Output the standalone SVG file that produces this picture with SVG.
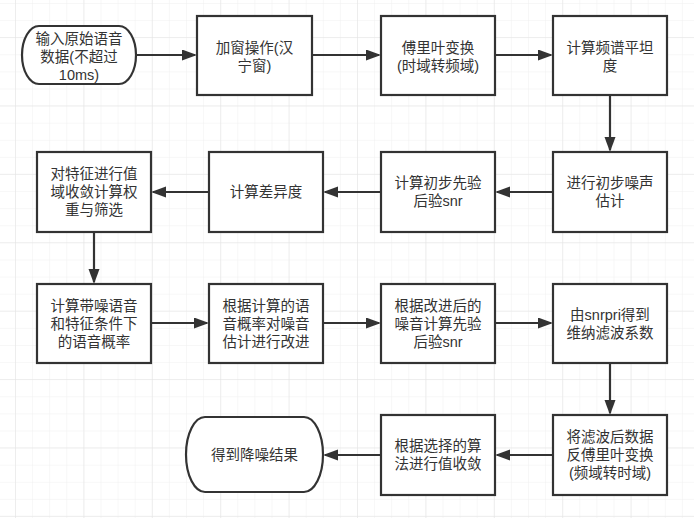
<svg xmlns="http://www.w3.org/2000/svg" width="694" height="518" viewBox="0 0 694 518">
<defs>
<pattern id="minor" x="15" y="3" width="17.1" height="17.1" patternUnits="userSpaceOnUse">
<path d="M0,0 H17.1 M0,0 V17.1" fill="none" stroke="#efefef" stroke-width="1"/>
</pattern>
<pattern id="major" x="15" y="37" width="68.4" height="68.4" patternUnits="userSpaceOnUse">
<path d="M0,0 H68.4 M0,0 V68.4" fill="none" stroke="#e4e4e4" stroke-width="1"/>
</pattern>
<marker id="arr" markerUnits="userSpaceOnUse" markerWidth="16" markerHeight="12" refX="13" refY="5.5" orient="auto">
<path d="M0,0 L15,5.5 L0,11 Z" fill="#333"/>
</marker>
<style>
.box{fill:#fff;stroke:#333;stroke-width:2.2}
.t{font-family:"Liberation Sans","Noto Sans CJK SC",sans-serif;font-size:14.5px;fill:#333;text-anchor:middle}
.c{fill:none;stroke:#333;stroke-width:2.2}
</style>
</defs>
<rect width="694" height="518" fill="#fff"/>
<rect width="694" height="518" fill="url(#minor)"/>
<rect width="694" height="518" fill="url(#major)"/>

<g id="connectors">
<line class="c" x1="136" y1="55" x2="195" y2="55" marker-end="url(#arr)"/>
<line class="c" x1="312" y1="55" x2="379" y2="55" marker-end="url(#arr)"/>
<line class="c" x1="495" y1="55" x2="551" y2="55" marker-end="url(#arr)"/>
<line class="c" x1="610" y1="95" x2="610" y2="150" marker-end="url(#arr)"/>
<line class="c" x1="553" y1="192" x2="497" y2="192" marker-end="url(#arr)"/>
<line class="c" x1="381" y1="192" x2="325" y2="192" marker-end="url(#arr)"/>
<line class="c" x1="209" y1="192" x2="153" y2="192" marker-end="url(#arr)"/>
<line class="c" x1="94" y1="232" x2="94" y2="282" marker-end="url(#arr)"/>
<line class="c" x1="151" y1="323" x2="207" y2="323" marker-end="url(#arr)"/>
<line class="c" x1="323" y1="323" x2="379" y2="323" marker-end="url(#arr)"/>
<line class="c" x1="495" y1="323" x2="551" y2="323" marker-end="url(#arr)"/>
<line class="c" x1="610" y1="363" x2="610" y2="413" marker-end="url(#arr)"/>
<line class="c" x1="553" y1="455" x2="497" y2="455" marker-end="url(#arr)"/>
<line class="c" x1="381" y1="455" x2="325" y2="455" marker-end="url(#arr)"/>
</g>

<g id="start">
<rect class="box" x="22" y="26" width="114" height="58" rx="17" ry="29"/>
<text class="t" x="79" y="44">输入原始语音</text>
<text class="t" x="79" y="62">数据(不超过</text>
<text class="t" x="79" y="79.5">10ms)</text>
</g>
<g id="hanning">
<rect class="box" x="197" y="16" width="115" height="79"/>
<text class="t" x="254.5" y="53">加窗操作(汉</text>
<text class="t" x="254.5" y="70.5">宁窗)</text>
</g>
<g id="fft">
<rect class="box" x="381" y="16" width="114" height="79"/>
<text class="t" x="438" y="53">傅里叶变换</text>
<text class="t" x="438" y="70.5">(时域转频域)</text>
</g>
<g id="flatness">
<rect class="box" x="553" y="16" width="114" height="79"/>
<text class="t" x="610" y="53">计算频谱平坦</text>
<text class="t" x="610" y="70.5">度</text>
</g>
<g id="noise-est">
<rect class="box" x="553" y="152" width="114" height="80"/>
<text class="t" x="610" y="188">进行初步噪声</text>
<text class="t" x="610" y="206">估计</text>
</g>
<g id="snr-init">
<rect class="box" x="381" y="152" width="114" height="80"/>
<text class="t" x="438" y="188">计算初步先验</text>
<text class="t" x="438" y="206">后验snr</text>
</g>
<g id="diff">
<rect class="box" x="209" y="152" width="114" height="80"/>
<text class="t" x="266" y="197">计算差异度</text>
</g>
<g id="feature">
<rect class="box" x="37" y="152" width="114" height="80"/>
<text class="t" x="94" y="179">对特征进行值</text>
<text class="t" x="94" y="197">域收敛计算权</text>
<text class="t" x="94" y="215">重与筛选</text>
</g>
<g id="prob">
<rect class="box" x="37" y="284" width="114" height="79"/>
<text class="t" x="94" y="311">计算带噪语音</text>
<text class="t" x="94" y="329">和特征条件下</text>
<text class="t" x="94" y="347">的语音概率</text>
</g>
<g id="improve">
<rect class="box" x="209" y="284" width="114" height="79"/>
<text class="t" x="266" y="311">根据计算的语</text>
<text class="t" x="266" y="329">音概率对噪音</text>
<text class="t" x="266" y="347">估计进行改进</text>
</g>
<g id="snr-new">
<rect class="box" x="381" y="284" width="114" height="79"/>
<text class="t" x="438" y="311">根据改进后的</text>
<text class="t" x="438" y="329">噪音计算先验</text>
<text class="t" x="438" y="347">后验snr</text>
</g>
<g id="wiener">
<rect class="box" x="553" y="284" width="114" height="79"/>
<text class="t" x="610" y="320">由snrpri得到</text>
<text class="t" x="610" y="338">维纳滤波系数</text>
</g>
<g id="ifft">
<rect class="box" x="553" y="415" width="114" height="80"/>
<text class="t" x="610" y="442">将滤波后数据</text>
<text class="t" x="610" y="460">反傅里叶变换</text>
<text class="t" x="610" y="478">(频域转时域)</text>
</g>
<g id="converge">
<rect class="box" x="381" y="415" width="114" height="80"/>
<text class="t" x="438" y="451">根据选择的算</text>
<text class="t" x="438" y="469">法进行值收敛</text>
</g>
<g id="end">
<rect class="box" x="186" y="417" width="137" height="75" rx="19" ry="37.5"/>
<text class="t" x="254.5" y="460">得到降噪结果</text>
</g>
</svg>
